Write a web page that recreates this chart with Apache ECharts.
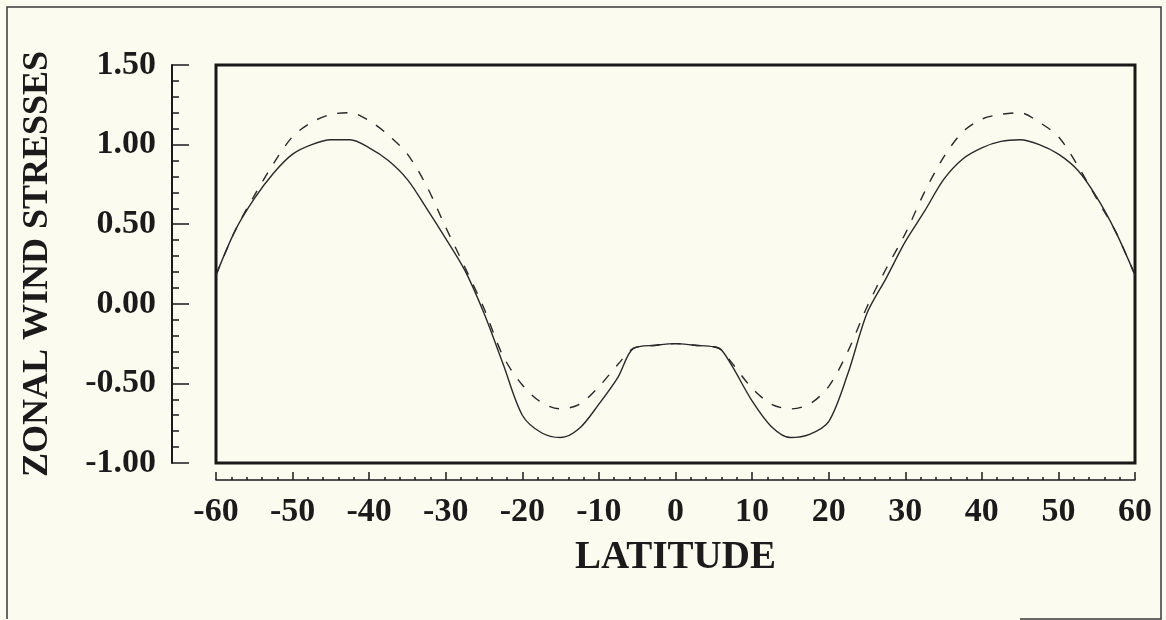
<!DOCTYPE html>
<html>
<head>
<meta charset="utf-8">
<script src="https://cdn.jsdelivr.net/npm/echarts@6/dist/echarts.min.js"></script>
<style>
  html, body { margin: 0; padding: 0; background: #fbfbf0; }
  #chart { width: 1166px; height: 620px; }
</style>
</head>
<body>
<div id="chart"></div>
<script>
// Latitudes (degrees) at which the curves were read
const latitudes = [-60,-57.5,-55,-52.5,-50,-47.5,-45,-42.5,-40,-37.5,-35,-32.5,-30,-27.5,-25,-22.5,-20,-17.5,-15,-12.5,-10,-7.5,-5.5,-2.5,0,2.5,5,6,7.5,10,12.5,15,17.5,20,22.5,25,27.5,30,32.5,35,37.5,40,42.5,45,47.5,50,52.5,55,57.5,60];
// Solid curve
const solidStress = [0.18,0.46,0.66,0.82,0.94,1.00,1.03,1.03,0.98,0.90,0.78,0.60,0.41,0.21,-0.06,-0.38,-0.70,-0.81,-0.84,-0.78,-0.63,-0.46,-0.28,-0.26,-0.25,-0.26,-0.27,-0.29,-0.40,-0.61,-0.77,-0.84,-0.82,-0.74,-0.44,-0.06,0.16,0.39,0.58,0.78,0.91,0.98,1.02,1.03,1.00,0.94,0.84,0.67,0.45,0.18];
// Dashed curve
const dashedStress = [0.18,0.46,0.68,0.88,1.05,1.14,1.19,1.20,1.15,1.06,0.94,0.74,0.48,0.23,-0.03,-0.33,-0.51,-0.62,-0.66,-0.63,-0.52,-0.38,-0.28,-0.26,-0.25,-0.26,-0.27,-0.29,-0.38,-0.53,-0.63,-0.66,-0.63,-0.52,-0.30,-0.02,0.22,0.44,0.70,0.92,1.08,1.16,1.19,1.20,1.14,1.05,0.87,0.66,0.45,0.18];
// Axis ranges / ticks
const xTicks = { min: -60, max: 60, step: 10 };
const yTicks = { min: -1.0, max: 1.5, step: 0.5 };
const xTitle = 'LATITUDE';
const yTitle = 'ZONAL WIND STRESSES';

const ink = '#1c1a1a';
const font = 'Liberation Serif';

const chart = echarts.init(document.getElementById('chart'), null, { renderer: 'canvas' });
chart.setOption({
  backgroundColor: '#fbfbf0',
  animation: false,
  grid: {
    left: 216, top: 65, width: 919, height: 398,
    show: true, borderColor: '#1a1818', borderWidth: 3, backgroundColor: 'transparent',
    outerBoundsMode: 'none', containLabel: false
  },
  xAxis: {
    type: 'value', min: xTicks.min, max: xTicks.max, interval: xTicks.step,
    position: 'bottom', offset: 17,
    axisLine: { show: true, onZero: false, lineStyle: { color: ink, width: 1.5 } },
    axisTick: { show: true, inside: true, length: 8, lineStyle: { color: ink, width: 1.5 } },
    minorTick: { show: true, splitNumber: 5, length: 3, lineStyle: { color: ink, width: 1.5 } },
    splitLine: { show: false },
    axisLabel: { color: ink, fontFamily: font, fontWeight: 'bold', fontSize: 34, margin: 15,
                 showMinLabel: true, showMaxLabel: true, hideOverlap: false },
    name: xTitle, nameLocation: 'middle', nameGap: 58,
    nameTextStyle: { color: ink, fontFamily: font, fontWeight: 'bold', fontSize: 39 }
  },
  yAxis: {
    type: 'value', min: yTicks.min, max: yTicks.max, interval: yTicks.step,
    position: 'left', offset: 44,
    axisLine: { show: true, onZero: false, lineStyle: { color: ink, width: 2 } },
    axisTick: { show: true, inside: true, length: 17, lineStyle: { color: ink, width: 1.5 } },
    minorTick: { show: true, splitNumber: 5, length: 7, lineStyle: { color: ink, width: 1.5 } },
    splitLine: { show: false },
    axisLabel: { color: ink, fontFamily: font, fontWeight: 'bold', fontSize: 34, margin: 16,
                 formatter: v => v.toFixed(2), showMinLabel: true, showMaxLabel: true, hideOverlap: false },
    name: yTitle, nameLocation: 'middle', nameRotate: 90, nameGap: 116,
    nameTextStyle: { color: ink, fontFamily: font, fontWeight: 'bold', fontSize: 36 }
  },
  series: [
    {
      type: 'line', name: 'solid', showSymbol: false, symbol: 'none', smooth: 0.3,
      data: latitudes.map((x, i) => [x, solidStress[i]]),
      lineStyle: { color: '#2a2828', width: 1.4, type: 'solid' }
    },
    {
      type: 'line', name: 'dashed', showSymbol: false, symbol: 'none', smooth: 0.3,
      data: latitudes.map((x, i) => [x, dashedStress[i]]),
      lineStyle: { color: '#2a2828', width: 1.4, type: [10, 11] }
    }
  ],
  graphic: [
    {
      type: 'polyline', silent: true,
      shape: { points: [[7, 619], [7, 7], [1161, 7], [1161, 619], [1020, 619]] },
      style: { stroke: '#3a3838', lineWidth: 1.5, fill: null }
    }
  ]
});
</script>
</body>
</html>
